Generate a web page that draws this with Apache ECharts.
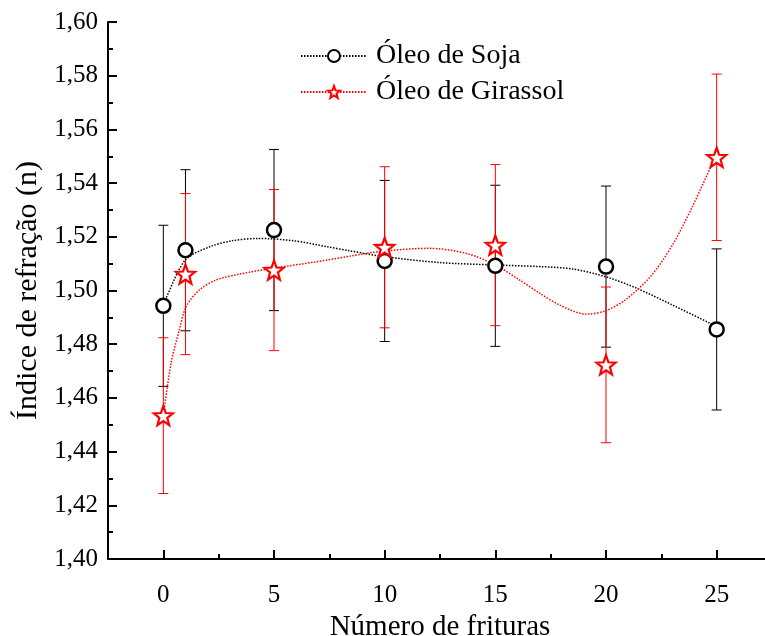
<!DOCTYPE html>
<html>
<head>
<meta charset="utf-8">
<script src="https://cdn.jsdelivr.net/npm/echarts@6/dist/echarts.min.js"></script>
<style>
  html, body { margin: 0; padding: 0; background: #fff; }
  #chart { width: 765px; height: 636px; }
</style>
</head>
<body>
<div id="chart"></div>
<script>
// Measured refractive index vs. number of frying cycles
const frituras = [0, 1, 5, 10, 15, 20, 25];
const soja = [1.4943, 1.5150, 1.5225, 1.5110, 1.5092, 1.5089, 1.4855];
const sojaErr = [0.030, 0.030, 0.030, 0.030, 0.030, 0.030, 0.030];
const girassol = [1.4534, 1.5061, 1.5076, 1.5161, 1.5169, 1.4723, 1.5496];
const girassolErr = [0.029, 0.030, 0.030, 0.030, 0.030, 0.029, 0.031];

// Smoothed trend curves (x, n)
const sojaFitX = [0, 0.12, 1.0, 2.1, 3.1, 4.3, 5.9, 7.4, 8.4, 10, 12.5, 15, 17, 18.5, 20, 21.4, 23, 24.7, 25];
const sojaFitY = [1.4943, 1.4971, 1.5114, 1.5163, 1.5185, 1.5194, 1.5185, 1.5163, 1.5148, 1.5126, 1.5104, 1.5095, 1.5089, 1.5080, 1.5051, 1.5008, 1.4946, 1.4878, 1.4865];
const girassolFitX = [0, 0.35, 0.72, 1.03, 1.63, 2.38, 3.44, 4.98, 6.91, 8.42, 9.97, 12.0, 13.7, 15.0, 16.1, 17.0, 17.9, 19.1, 20.0, 20.9, 22.0, 23.0, 23.9, 24.85, 25];
const girassolFitY = [1.4534, 1.4729, 1.4853, 1.4940, 1.5002, 1.5039, 1.5061, 1.5083, 1.5107, 1.5128, 1.5147, 1.5157, 1.5138, 1.5095, 1.5039, 1.4990, 1.4946, 1.4912, 1.4925, 1.4967, 1.5051, 1.5169, 1.5312, 1.5480, 1.5496];

// Axis tick values
const xMajorTicks = [0, 5, 10, 15, 20, 25];
const xMinorTicks = [2.5, 7.5, 12.5, 17.5, 22.5, 27.5];

const FONT = 'Liberation Serif';
const STAR = 'path://M50 0 L62.34 33.01 L97.55 34.55 L69.97 56.49 L79.39 90.45 L50 71 L20.61 90.45 L30.03 56.49 L2.45 34.55 L37.66 33.01 Z';

const pairs = (xs, ys) => xs.map((x, i) => [x, ys[i]]);
const bars = (vals, errs) => frituras.map((x, i) => [x, vals[i] - errs[i], vals[i] + errs[i]]);

function errorBar(color) {
  return function (params, api) {
    const x = api.value(0);
    const lo = api.coord([x, api.value(1)]);
    const hi = api.coord([x, api.value(2)]);
    const w = 5;
    const style = { stroke: color, lineWidth: 1 };
    return {
      type: 'group',
      children: [
        { type: 'line', shape: { x1: hi[0], y1: hi[1], x2: lo[0], y2: lo[1] }, style },
        { type: 'line', shape: { x1: hi[0] - w, y1: hi[1], x2: hi[0] + w, y2: hi[1] }, style },
        { type: 'line', shape: { x1: lo[0] - w, y1: lo[1], x2: lo[0] + w, y2: lo[1] }, style }
      ]
    };
  };
}

const chart = echarts.init(document.getElementById('chart'), null, { renderer: 'canvas' });

const axisText = { fontFamily: FONT, fontSize: 25, color: '#000' };

chart.setOption({
  animation: false,
  backgroundColor: '#fff',
  grid: { left: 108, right: -7, top: 22, bottom: 77, outerBoundsMode: 'none', containLabel: false },
  legend: {
    orient: 'vertical',
    left: 295,
    top: 37,
    itemWidth: 66,
    itemHeight: 15,
    itemGap: 8,
    data: ['Óleo de Soja', 'Óleo de Girassol'],
    textStyle: { fontFamily: FONT, fontSize: 28, color: '#000', padding: [0, 0, 0, 4] }
  },
  xAxis: [
    {
      type: 'value',
      min: -2.5,
      max: 27.5,
      name: 'Número de frituras',
      nameLocation: 'middle',
      nameGap: 65,
      nameTextStyle: { fontFamily: FONT, fontSize: 29, color: '#000', verticalAlign: 'middle' },
      axisLine: { show: true, onZero: false, lineStyle: { color: '#000', width: 2 } },
      axisTick: { show: true, inside: true, length: 9, customValues: xMajorTicks, lineStyle: { color: '#000', width: 2 } },
      axisLabel: { show: true, margin: 24, customValues: xMajorTicks, ...axisText },
      splitLine: { show: false }
    },
    {
      type: 'value',
      min: -2.5,
      max: 27.5,
      position: 'bottom',
      axisLine: { show: false, onZero: false },
      axisTick: { show: true, inside: true, length: 5, customValues: xMinorTicks, lineStyle: { color: '#000', width: 2 } },
      axisLabel: { show: false },
      splitLine: { show: false }
    }
  ],
  yAxis: {
    type: 'value',
    min: 1.40,
    max: 1.60,
    interval: 0.02,
    name: 'Índice de refração (n)',
    nameLocation: 'middle',
    nameGap: 63,
    nameTextStyle: { fontFamily: FONT, fontSize: 30, color: '#000' },
    axisLine: { show: true, onZero: false, lineStyle: { color: '#000', width: 2 } },
    axisTick: { show: true, inside: true, length: 9, lineStyle: { color: '#000', width: 2 } },
    minorTick: { show: true, splitNumber: 2, length: 5, lineStyle: { color: '#000', width: 2 } },
    axisLabel: {
      margin: 10,
      ...axisText,
      formatter: v => v.toFixed(2).replace('.', ',')
    },
    splitLine: { show: false }
  },
  series: [
    {
      name: 'soja-erro',
      type: 'custom',
      renderItem: errorBar('#000'),
      encode: { x: 0, y: [1, 2] },
      data: bars(soja, sojaErr),
      z: 1
    },
    {
      name: 'girassol-erro',
      type: 'custom',
      renderItem: errorBar('#ff0000'),
      encode: { x: 0, y: [1, 2] },
      data: bars(girassol, girassolErr),
      z: 2
    },
    {
      name: 'Óleo de Soja',
      type: 'line',
      smooth: 0.3,
      data: pairs(sojaFitX, sojaFitY),
      showSymbol: false,
      symbol: 'circle',
      itemStyle: { color: '#fff', borderColor: '#000', borderWidth: 2 },
      lineStyle: { color: '#000', width: 1.5, type: [1.5, 1.5] },
      z: 3
    },
    {
      name: 'Óleo de Girassol',
      type: 'line',
      smooth: 0.3,
      data: pairs(girassolFitX, girassolFitY),
      showSymbol: false,
      symbol: STAR,
      itemStyle: { color: '#fff', borderColor: '#ff0000', borderWidth: 2 },
      lineStyle: { color: '#ff0000', width: 1.5, type: [1.5, 1.5] },
      z: 3
    },
    {
      name: 'soja-pontos',
      type: 'scatter',
      data: pairs(frituras, soja),
      symbol: 'circle',
      symbolSize: 14,
      itemStyle: { color: '#fff', borderColor: '#000', borderWidth: 2.5, opacity: 1 },
      z: 4
    },
    {
      name: 'girassol-pontos',
      type: 'scatter',
      data: pairs(frituras, girassol),
      symbol: STAR,
      symbolSize: 19,
      itemStyle: { color: '#fff', borderColor: '#ff0000', borderWidth: 2.2, opacity: 1 },
      z: 5
    }
  ]
});
</script>
</body>
</html>
